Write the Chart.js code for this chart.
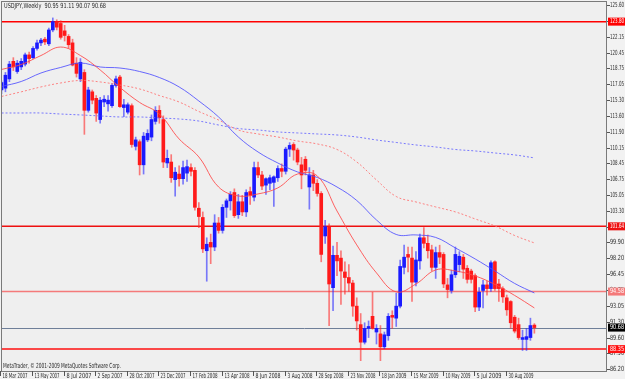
<!DOCTYPE html>
<html>
<head>
<meta charset="utf-8">
<script src="https://cdn.jsdelivr.net/npm/chart.js@4.4.0/dist/chart.umd.min.js"></script>
<style>
    html, body { margin: 0; padding: 0; background: #f2f2f2; }
    #wrap { width: 625px; height: 379px; }
</style>
</head>
<body>
<div id="wrap"><canvas id="chart" width="625" height="379"></canvas></div>
<script>
// USDJPY weekly bars, index = week number counted from 18 Mar 2007
const opens = [116.4,116.6,117.6,119.5,118.4,118.9,119.2,120.2,119.9,120.9,121.5,121.9,121.4,122.9,123.8,123.6,122.8,122.2,121.5,119.3,
    117.6,118.3,114.2,116.2,115.5,113.2,115.1,114.9,114.7,116.9,117.8,114.5,114.0,114.7,110.3,110.8,108.3,111.0,111.3,113.0,
    114.2,113.2,108.5,108.6,106.7,107.3,106.8,107.4,108.0,107.7,103.6,102.6,99.0,99.9,99.4,102.0,101.2,103.7,104.4,105.3,
    102.9,104.3,103.2,105.4,104.8,108.0,107.2,106.1,106.3,106.4,106.9,107.9,107.6,110.0,110.5,109.9,108.3,108.9,105.9,107.2,
    106.3,105.2,100.6,101.6,95.0,98.5,98.2,96.7,96.1,95.5,93.0,91.0,89.1,90.6,91.9,90.2,90.0,88.6,89.8,92.0,
    91.7,93.0,97.2,98.6,98.2,95.6,97.9,100.4,99.8,99.1,97.2,98.8,98.6,95.3,94.7,96.4,97.5,98.3,97.1,96.8,
    96.3,92.9,94.7,95.3,94.9,97.8,95.4,94.9,93.9,93.5,91.8,91.0,89.4,89.4,89.6,90.95];
const highs = [117.4,118.3,119.5,119.9,119.6,119.8,120.4,120.5,121.1,121.8,122.0,122.1,123.1,124.2,124.0,123.9,123.4,122.4,121.9,119.9,
    119.8,118.6,116.7,116.4,115.8,115.6,115.8,115.8,117.1,117.9,118.0,115.4,115.0,114.9,111.3,111.0,111.8,112.1,113.7,114.6,
    114.7,113.6,109.9,109.4,108.0,108.2,108.7,108.8,108.4,108.0,104.2,103.2,100.4,100.8,102.9,102.6,104.0,104.6,105.4,105.7,
    105.1,105.0,105.6,105.9,108.6,108.6,107.6,106.9,107.2,107.1,108.2,108.4,110.2,110.7,110.7,110.1,109.1,109.2,108.0,107.7,
    106.7,105.4,102.3,101.9,99.5,99.9,99.0,97.8,97.5,95.8,93.9,92.2,91.2,91.4,94.5,91.0,90.9,90.2,92.2,92.5,
    94.4,98.0,99.6,99.4,99.4,98.9,100.8,101.5,100.7,99.6,99.4,99.6,98.8,96.0,96.9,99.4,98.9,98.6,97.4,97.0,
    96.5,95.0,95.8,95.7,97.9,97.9,95.9,95.1,94.2,93.6,92.0,91.7,90.4,90.6,91.7,91.11];
const lows = [116.0,116.2,117.3,118.5,118.2,118.6,119.0,119.3,119.8,120.7,121.2,121.3,121.2,122.7,122.9,121.9,121.7,120.9,119.0,117.8,
    117.3,111.6,114.0,114.9,113.0,112.8,114.6,114.1,114.5,116.7,114.5,113.5,113.8,110.2,109.9,107.2,107.3,110.8,110.9,112.7,
    112.8,108.0,108.0,106.4,104.9,106.0,106.2,106.5,107.1,103.4,101.5,98.8,95.7,97.6,99.0,100.9,100.9,102.6,103.4,102.6,
    102.5,102.8,102.7,104.0,104.4,106.9,105.6,105.1,105.6,103.8,106.5,107.0,107.3,109.2,108.8,108.3,105.7,107.2,103.5,105.5,
    104.9,97.8,99.8,90.9,92.5,96.3,93.2,94.3,94.6,91.9,90.4,87.1,88.9,89.6,90.5,88.9,87.1,88.4,89.3,90.6,
    90.8,92.8,96.5,96.7,93.5,95.2,97.0,99.3,98.2,96.8,96.0,97.6,95.0,93.9,94.4,96.1,96.7,96.0,95.5,95.5,
    92.4,92.5,92.8,94.2,94.6,94.7,93.5,93.4,92.0,90.6,90.1,89.4,88.2,88.2,89.3,90.07];
const closes = [117.2,118.0,119.2,118.9,119.3,119.5,120.2,119.8,120.9,121.5,121.8,121.6,122.9,123.8,123.2,122.1,122.3,121.3,119.1,118.2,
    119.4,114.2,116.4,115.3,113.9,115.3,115.4,115.3,116.9,117.6,114.6,114.8,114.8,110.5,111.0,108.3,111.4,111.7,113.2,114.2,
    113.4,108.6,109.0,106.9,107.5,106.8,108.0,108.1,107.6,103.7,102.7,99.2,99.7,99.4,102.0,101.2,103.7,104.4,105.1,102.8,
    104.3,103.2,105.3,105.0,108.0,107.2,106.0,106.8,106.9,107.0,107.9,107.6,110.0,110.4,109.9,108.6,107.2,107.7,107.2,106.3,
    105.2,98.6,101.6,95.4,98.5,97.9,96.8,96.1,95.5,93.0,91.4,89.1,90.6,90.8,90.6,90.6,88.6,89.9,91.9,91.8,
    93.0,97.3,98.3,98.3,95.6,98.0,100.4,99.8,99.0,97.2,98.8,98.3,95.4,94.8,96.4,98.6,98.4,97.0,95.9,95.9,
    92.9,94.5,95.3,94.9,97.7,94.9,94.9,94.0,92.6,91.2,90.3,89.6,89.6,89.7,90.9,90.68];

const maWeeks = [0,5,10,15,20,25,30,35,40,45,50,55,60,65,70,75,80,85,90,95,100,105,110,115,120,125,130,135];
const maFast = [118.62,119.16,120.13,121.05,120.13,118.57,116.68,115.05,113.8,111.1,109.15,105.9,104.93,105.15,105.8,107.3,107.1,103.3,99.63,96.6,94.54,95.4,96.92,96.81,96.27,95.35,94.16,92.81];
const maMid = [116.78,117.32,118.24,118.84,119.32,118.89,118.78,118.4,117.75,116.73,115.21,113.48,111.31,109.69,108.5,107.53,106.93,105.9,104.44,102.33,100.76,100.71,100.44,99.3,98.11,96.81,95.46,94.43];
const maSlow = [115.7,116.2,116.73,117.16,117.43,117.27,116.94,116.51,115.8,115.1,114.07,113.15,112.07,111.64,111.31,110.88,110.56,109.96,108.61,106.66,104.87,104.28,103.74,103.2,102.44,101.68,100.65,99.84];
const maLong = [113.91,113.91,113.91,113.8,113.7,113.59,113.48,113.48,113.37,113.26,113.04,112.61,112.23,112.07,111.86,111.75,111.64,111.53,111.31,110.99,110.72,110.45,110.23,109.96,109.8,109.58,109.37,109.05];

const priceTicks = [125.60,123.90,122.15,120.45,118.75,117.05,115.30,113.60,111.90,110.15,108.45,106.75,105.05,103.30,101.60,99.90,98.20,96.45,94.75,93.05,91.30,89.60,87.90,86.20];
const dateWeeks = [0,8,16,24,32,40,48,56,64,72,80,88,96,104,112,120,128];
const dateLabels = ['18 Mar 2007','13 May 2007','8 Jul 2007','2 Sep 2007','28 Oct 2007','23 Dec 2007','17 Feb 2008','13 Apr 2008','8 Jun 2008','3 Aug 2008','28 Sep 2008','23 Nov 2008','18 Jan 2009','15 Mar 2009','10 May 2009','5 Jul 2009','30 Aug 2009'];

const levels = [123.80, 101.64, 94.58, 88.35];
const levelColors = ['#ff0000', '#ee1010', '#f47a7a', '#ff1010'];
const bidPrice = 90.68;
const titleText = 'USDJPY,Weekly  90.95 91.11 90.07 90.68';
const copyText = 'MetaTrader, \u00a9 2001-2009 MetaQuotes Software Corp.';

const BLUE = '#1a1aff';
const RED = '#ff1a1a';

const isUp = closes.map((c, i) => c >= opens[i]);
const bodyData = opens.map((o, i) => ({ x: i, y: [o, closes[i]] }));
const wickData = opens.map((o, i) => ({ x: i, y: [lows[i], highs[i]] }));
const maPoints = arr => maWeeks.map((w, i) => ({ x: w, y: arr[i] }));

const FONT = '7px "DejaVu Sans"';

const mt4Frame = {
    id: 'mt4Frame',
    beforeDraw(chart) {
        const ctx = chart.ctx, a = chart.chartArea;
        ctx.save();
        ctx.fillStyle = '#f2f2f2';
        ctx.fillRect(0, 0, chart.width, chart.height);
        ctx.fillStyle = '#efefef';
        ctx.fillRect(a.left, a.top, a.right - a.left, a.bottom - a.top);
        ctx.restore();
    },
    beforeDatasetsDraw(chart) {
        const ctx = chart.ctx, a = chart.chartArea, y = chart.scales.y;
        ctx.save();
        levels.forEach((v, i) => {
            const py = y.getPixelForValue(v);
            ctx.strokeStyle = levelColors[i];
            ctx.lineWidth = 1.5;
            ctx.beginPath();
            ctx.moveTo(a.left, py);
            ctx.lineTo(a.right, py);
            ctx.stroke();
        });
        const pb = Math.round(y.getPixelForValue(bidPrice)) + 0.5;
        ctx.strokeStyle = '#6f7f99';
        ctx.lineWidth = 1;
        ctx.beginPath();
        ctx.moveTo(a.left, pb);
        ctx.lineTo(a.right, pb);
        ctx.stroke();
        ctx.restore();
    },
    afterDraw(chart) {
        const ctx = chart.ctx, a = chart.chartArea;
        const x = chart.scales.x, y = chart.scales.y;
        ctx.save();
        // frame
        ctx.strokeStyle = '#7a7a7a';
        ctx.lineWidth = 1;
        ctx.strokeRect(Math.round(a.left) - 0.5, Math.round(a.top) - 0.5, Math.round(a.right - a.left), Math.round(a.bottom - a.top) + 1);

        ctx.font = FONT;
        ctx.textBaseline = 'middle';
        ctx.fillStyle = '#2a2a2a';
        // price axis
        priceTicks.forEach(v => {
            const py = Math.round(y.getPixelForValue(v)) + 0.5;
            ctx.strokeStyle = '#555';
            ctx.beginPath();
            ctx.moveTo(a.right, py);
            ctx.lineTo(a.right + 3, py);
            ctx.stroke();
            ctx.fillText(v.toFixed(2), a.right + 3, py, 14);
        });
        // date axis
        dateWeeks.forEach((w, i) => {
            const px = Math.round(x.getPixelForValue(w)) - 0.5;
            ctx.strokeStyle = '#555';
            ctx.beginPath();
            ctx.moveTo(px, a.bottom);
            ctx.lineTo(px, a.bottom + 5);
            ctx.stroke();
            ctx.fillText(dateLabels[i], px + 2, a.bottom + 5, 25);
        });
        // captions
        ctx.fillText(titleText, 4, 6, 102);
        ctx.fillText(copyText, 3, 366, 118);

        // price boxes
        const box = (v, fill, txt) => {
            const py = y.getPixelForValue(v);
            ctx.fillStyle = fill;
            ctx.fillRect(a.right + 1, py - 4, 18, 8);
            ctx.fillStyle = txt;
            ctx.fillText(v.toFixed(2), a.right + 3, py, 14);
        };
        levels.forEach((v, i) => box(v, levelColors[i], '#ffffff'));
        box(bidPrice, '#000000', '#ffffff');
        ctx.restore();
    }
};

new Chart(document.getElementById('chart'), {
    data: {
        datasets: [
            { type: 'line', data: maPoints(maFast), borderColor: 'rgba(255,70,70,0.85)', borderWidth: 1, pointRadius: 0, tension: 0.4, order: 0 },
            { type: 'line', data: maPoints(maMid), borderColor: 'rgba(80,80,255,0.85)', borderWidth: 1, pointRadius: 0, tension: 0.4, order: 0 },
            { type: 'line', data: maPoints(maSlow), borderColor: 'rgba(255,110,110,0.85)', borderWidth: 1, borderDash: [2, 2], pointRadius: 0, tension: 0.4, order: 0 },
            { type: 'line', data: maPoints(maLong), borderColor: 'rgba(100,100,255,0.85)', borderWidth: 1, borderDash: [2, 2], pointRadius: 0, tension: 0.4, order: 0 },
            { type: 'bar', data: bodyData, barThickness: 3, minBarLength: 1, grouped: false, order: 1,
              backgroundColor: isUp.map(u => u ? BLUE : RED) },
            { type: 'bar', data: wickData, barThickness: 1, grouped: false, order: 2,
              backgroundColor: isUp.map(u => u ? 'rgba(40,40,255,0.6)' : 'rgba(255,40,40,0.6)') }
        ]
    },
    options: {
        responsive: false,
        animation: false,
        events: [],
        layout: { padding: { left: 2, right: 18, top: 2, bottom: 8 } },
        plugins: { legend: { display: false }, tooltip: { enabled: false } },
        scales: {
            x: { type: 'linear', display: false, min: 0.13, max: 153.4, offset: false },
            y: { type: 'linear', display: false, min: 85.98, max: 125.925 }
        }
    },
    plugins: [mt4Frame]
});
</script>
</body>
</html>
